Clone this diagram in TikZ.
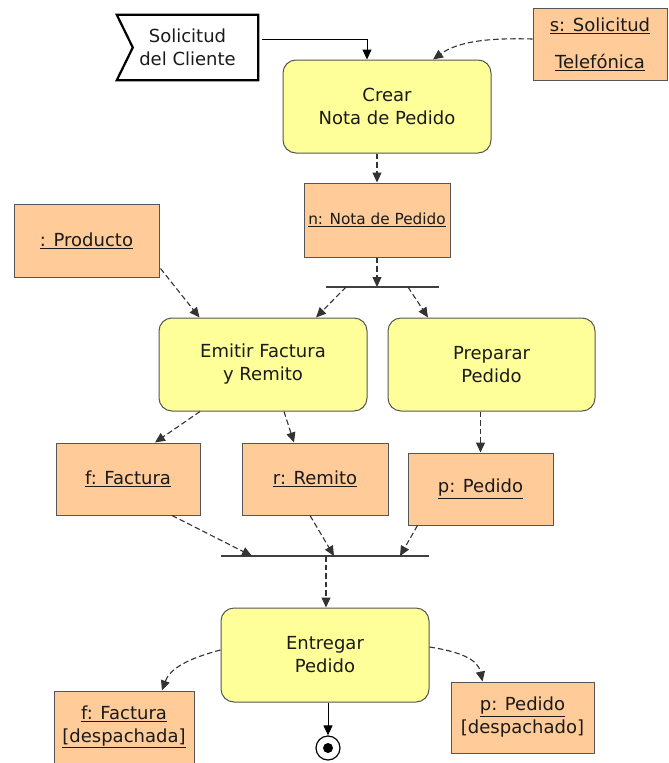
\documentclass[tikz,border=0pt]{standalone}
\usepackage{fontspec}
\setmainfont{DejaVu Sans}
\usetikzlibrary{arrows.meta,calc}
\definecolor{actfill}{HTML}{FFFF99}
\definecolor{objfill}{HTML}{FFCC99}
\definecolor{edgegray}{HTML}{555555}
\definecolor{txt}{HTML}{1A1A1A}
\begin{document}
\begin{tikzpicture}[x=1pt,y=-1pt,
  base/.style={align=center,inner sep=0pt,text=txt,font=\fontsize{18}{23}\selectfont},
  act/.style={base,draw=edgegray,fill=actfill,rounded corners=13pt,line width=1pt},
  obj/.style={base,draw=edgegray,fill=objfill,line width=1pt},
  dashar/.style={draw=black!80,line width=1.1pt,dash pattern=on 5.5pt off 3pt,-{Triangle[length=10pt,width=9pt]}},
  solar/.style={draw=black,line width=1pt,-{Triangle[length=10pt,width=9pt]}},
  barline/.style={draw=black!75,line width=1.3pt}]
\useasboundingbox (0,0) rectangle (669,763);

% signal receipt
\node[base,minimum width=141pt,minimum height=65pt] (sol) at (187.5,47.5) {Solicitud\\del Cliente};
\draw[line width=2.2pt,line join=miter] (sol.north west) -- (sol.north east) -- (sol.south east) -- (sol.south west) -- ($(sol.west)+(16,0)$) -- cycle;

\node[act,minimum width=208pt,minimum height=93pt] (crear) at (387,106.5) {Crear\\Nota de Pedido};
\node[obj,minimum width=134pt,minimum height=72pt] (stel) at (600,44) {\underline{s: Solicitud}\\[14pt]\underline{Telefónica}};
\node[obj,minimum width=146pt,minimum height=74pt,font=\fontsize{15.3}{18}\selectfont] (nota) at (377,220) {\underline{n: Nota de Pedido}};
\node[obj,minimum width=145pt,minimum height=73pt] (prod) at (86.5,240.5) {\underline{: Producto}};

\coordinate (fk1) at (326,287);
\coordinate (fk2) at (439,287);
\coordinate (fa) at (346,287);
\coordinate (fb) at (408,287);

\node[act,minimum width=208pt,minimum height=93pt] (emitir) at (263,364.5) {Emitir Factura\\y Remito};
\node[act,minimum width=207pt,minimum height=93pt] (prep) at (491.5,364.5) {Preparar\\Pedido};

\node[obj,minimum width=144pt,minimum height=72pt] (fact) at (128,479) {\underline{f: Factura}};
\node[obj,minimum width=146pt,minimum height=72pt] (rem) at (315,479) {\underline{r: Remito}};
\node[obj,minimum width=145pt,minimum height=72pt] (ped) at (480.5,489) {\underline{p: Pedido}};

\coordinate (jn1) at (221,556);
\coordinate (jn2) at (429,556);
\coordinate (jc) at (326,556);

\node[act,minimum width=208pt,minimum height=94pt] (ent) at (325,655) {Entregar\\Pedido};
\node[obj,minimum width=140pt,minimum height=72pt] (factd) at (124,727) {\underline{f: Factura}\\\underline{[despachada]}};
\node[obj,minimum width=143pt,minimum height=71pt] (pedd) at (522.5,717.5) {\underline{p: Pedido}\\{[despachado]}};

\node[circle,draw=black,line width=1.2pt,minimum size=24pt,inner sep=0pt] (fin) at (328,748) {};
\fill[black] (fin.center) circle (5pt);

% connectors
\draw[solar] ($(sol.east)+(4,-8)$) -| ($(crear.north)+(-20,0)$);
\draw[dashar] ($(stel.west)+(0,-5)$) .. controls (495,38) and (460,40) .. ($(crear.north)+(46,0)$);
\draw[dashar] (crear.south -| nota.north) -- (nota.north);
\draw[dashar] (nota.south) -- (nota.south |- fk1);
\draw[barline] (fk1) -- (fk2);
\draw[dashar] (fa) -- ($(emitir.north)+(53,0)$);
\draw[dashar] (fb) -- ($(prep.north)+(-63.5,0)$);
\draw[dashar] ($(prod.south east)+(1,-9)$) -- ($(emitir.north west)+(41,0)$);

\draw[dashar] ($(emitir.south)+(-63,0)$) -- ($(fact.north)+(27,0)$);
\draw[dashar] ($(emitir.south)+(21,0)$) -- ($(rem.north)+(-21,0)$);
\draw[dashar] (prep.south -| ped.north) -- (ped.north);

\draw[barline] (jn1) -- (jn2);
\draw[dashar] ($(fact.south)+(44,0)$) -- (252,556);
\draw[dashar] ($(rem.south)+(-5,0)$) -- (334,556);
\draw[dashar] ($(ped.south west)+(10,0)$) -- (400,556);
\draw[dashar] (jc) -- (jc |- ent.north);

\draw[dashar] ($(ent.west)+(0,-5)$) .. controls (190,658) and (170,668) .. ($(factd.north)+(38,0)$);
\draw[dashar] ($(ent.east)+(0,-8)$) .. controls (462,652) and (478,660) .. ($(pedd.north)+(-40,0)$);
\draw[solar] (fin.north |- ent.south) -- (fin.north);
\end{tikzpicture}
\end{document}
